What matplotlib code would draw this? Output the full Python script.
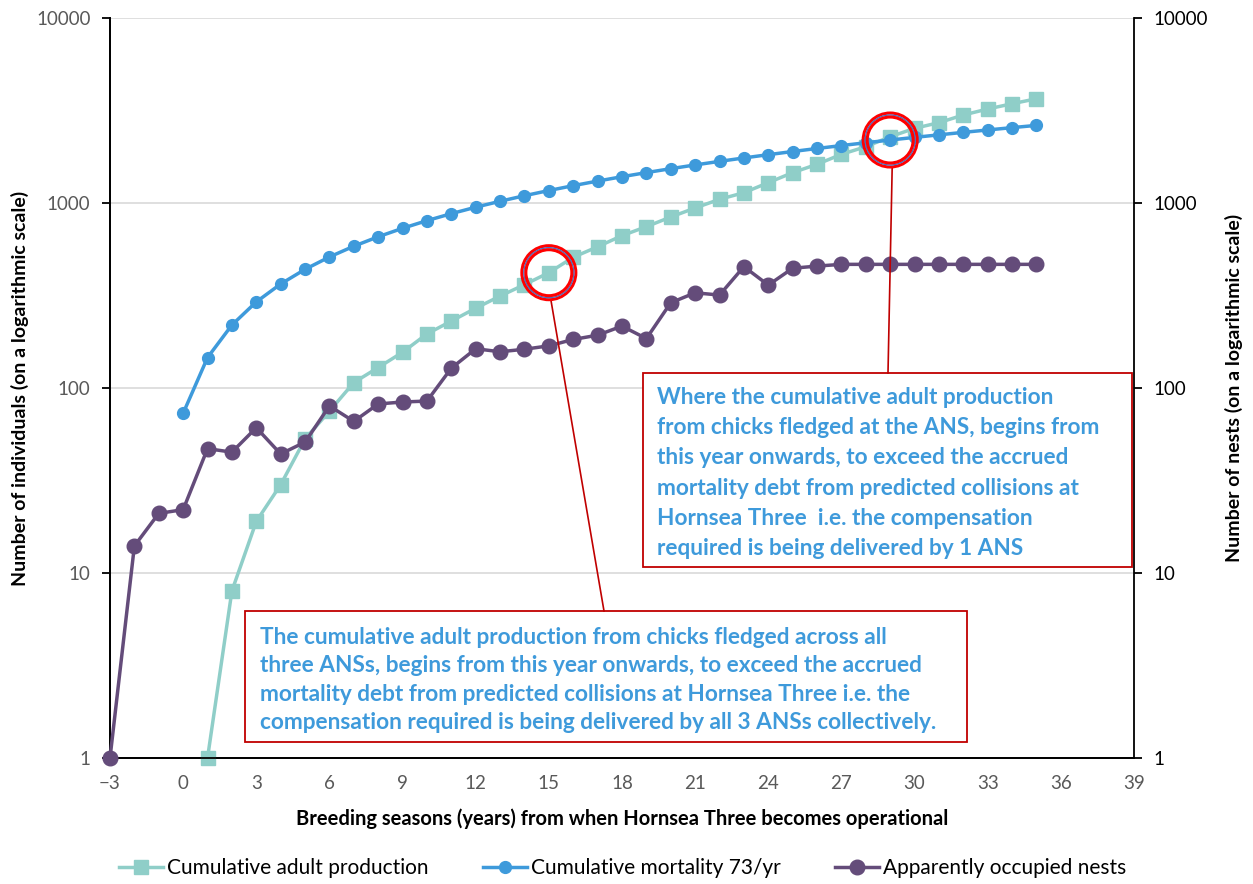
import matplotlib
matplotlib.use("Agg")
import matplotlib.pyplot as plt
from matplotlib.patches import Rectangle, Ellipse
from matplotlib.lines import Line2D

plt.rcParams['font.family'] = ['Lato', 'DejaVu Sans']

# ---- data ----
years_adult = list(range(1, 36))
adult_production = [1, 8, 19, 30, 53, 75, 107, 129, 156, 196, 230, 270, 314, 362, 420,
                    509, 580, 666, 745, 840, 940, 1047, 1137, 1288, 1459, 1619, 1833,
                    2015, 2281, 2533, 2718, 2990, 3222, 3440, 3660]

years_mort = list(range(0, 36))
cum_mortality = [73, 146, 219, 292, 365, 438, 511, 584, 657, 730, 803, 876, 949, 1022,
                 1095, 1168, 1241, 1314, 1387, 1460, 1533, 1606, 1679, 1752, 1825, 1898,
                 1971, 2044, 2117, 2190, 2263, 2336, 2409, 2482, 2555, 2628]

years_nests = list(range(-3, 36))
occupied_nests = [1, 14, 21, 22, 47, 45, 61, 44, 51, 80, 66, 82, 84, 85, 128, 163, 157,
                  162, 169, 183, 193, 216, 185, 289, 327, 318, 453, 360, 444, 456, 466,
                  466, 466, 466, 466, 466, 466, 466, 466]

x_ticks = list(range(-3, 40, 3))
y_ticks = [1, 10, 100, 1000, 10000]
y_ticklabels = ["1", "10", "100", "1000", "10000"]

labels = ["Cumulative adult production", "Cumulative mortality 73/yr",
          "Apparently occupied nests"]
box1_text = ("Where the cumulative adult production\n"
             "from chicks fledged at the ANS, begins from\n"
             "this year onwards, to exceed the accrued\n"
             "mortality debt from predicted collisions at\n"
             "Hornsea Three  i.e. the compensation\n"
             "required is being delivered by 1 ANS")
box2_text = ("The cumulative adult production from chicks fledged across all\n"
             "three ANSs, begins from this year onwards, to exceed the accrued\n"
             "mortality debt from predicted collisions at Hornsea Three i.e. the\n"
             "compensation required is being delivered by all 3 ANSs collectively.")

c_teal = "#8FCEC8"
c_blue = "#3E9ADB"
c_purple = "#644C7A"
c_red = "#C00000"
c_text_blue = "#3E9ADB"

W, H = 1253, 884
fig = plt.figure(figsize=(W / 100, H / 100), dpi=100)
ax = fig.add_axes([110 / W, 1 - 758 / H, (1134 - 110) / W, (758 - 18) / H])
ax2 = ax.twinx()

ax.set_xlim(-3, 39)
ax.set_yscale('log')
ax.set_ylim(1, 10000)
ax2.set_yscale('log')
ax2.set_ylim(1, 10000)

ax.set_yticks(y_ticks)
ax.set_yticklabels(y_ticklabels)
ax.yaxis.set_minor_locator(matplotlib.ticker.NullLocator())
ax2.set_yticks(y_ticks)
ax2.set_yticklabels(y_ticklabels)
ax2.yaxis.set_minor_locator(matplotlib.ticker.NullLocator())
ax.set_xticks(x_ticks)

ax.grid(axis='y', color='#D9D9D9', lw=1.2)
ax.set_axisbelow(True)

ax.spines['top'].set_visible(False)
ax2.spines['top'].set_visible(False)
ax.spines['right'].set_visible(False)
for a in (ax, ax2):
    for s in ['left', 'right', 'bottom']:
        a.spines[s].set_color('black')
        a.spines[s].set_linewidth(1.3)

ax.tick_params(axis='y', direction='out', length=6, width=1.3, colors='black',
               labelcolor='#595959', labelsize=13.5, pad=8)
ax.tick_params(axis='x', direction='out', length=0, labelcolor='#595959',
               labelsize=13.5, pad=12)
ax2.tick_params(axis='y', direction='out', length=6, width=1.3, colors='black',
                labelcolor='black', labelsize=13.5, pad=8)

l1, = ax.plot(years_adult, adult_production, color=c_teal, lw=2.5, marker='s',
              markersize=10, zorder=3)
l2, = ax.plot(years_mort, cum_mortality, color=c_blue, lw=2.5, marker='o',
              markersize=8.5, zorder=4)
l3, = ax2.plot(years_nests, occupied_nests, color=c_purple, lw=2.5, marker='o',
               markersize=10.5, zorder=3)
for l in (l1, l2, l3):
    l.set_clip_on(False)

ax.set_ylabel("Number of individuals (on a logarithmic scale)", fontsize=14,
              fontweight='bold', labelpad=5)
ax2.set_ylabel("Number of nests (on a logarithmic scale)", fontsize=14,
               fontweight='bold', labelpad=12)
ax.set_xlabel("Breeding seasons (years) from when Hornsea Three becomes operational",
              fontsize=14.5, fontweight='bold', labelpad=12)

handles = [Line2D([], [], color=c_teal, lw=2.5, marker='s', markersize=10),
           Line2D([], [], color=c_blue, lw=2.5, marker='o', markersize=8.5),
           Line2D([], [], color=c_purple, lw=2.5, marker='o', markersize=10.5)]
fig.legend(handles, labels, loc='center', bbox_to_anchor=(0.497, 1 - 868 / H), ncol=3,
           frameon=False, fontsize=15, handlelength=2.1, handletextpad=0.2,
           columnspacing=2.6)


def fx(px):
    return px / W


def fy(py):
    return 1 - py / H


# annotation boxes
fig.patches.append(Rectangle((fx(643), fy(567)), fx(1132) - fx(643), fy(373) - fy(567),
                             transform=fig.transFigure, fill=True, facecolor='white',
                             edgecolor=c_red, lw=1.3, zorder=5))
fig.patches.append(Rectangle((fx(245), fy(742)), fx(967) - fx(245), fy(611) - fy(742),
                             transform=fig.transFigure, fill=True, facecolor='white',
                             edgecolor=c_red, lw=1.3, zorder=5))
fig.text(fx(657), fy(473), box1_text, transform=fig.transFigure, ha='left', va='center',
         fontsize=16.3, fontweight='bold', color=c_text_blue, linespacing=1.55, zorder=6)
fig.text(fx(260), fy(680), box2_text, transform=fig.transFigure, ha='left', va='center',
         fontsize=16.3, fontweight='bold', color=c_text_blue, linespacing=1.42, zorder=6)

# circles around crossing points
fig.canvas.draw()
r = 27
for (xv, yv, bx, by) in [(15, adult_production[14], 604, 611),
                          (29, cum_mortality[29], 888, 373)]:
    dx, dy = ax.transData.transform((xv, yv))
    cx, cy = dx / W, dy / H
    for lw, col, rr in [(2.2, 'red', r), (1.0, '#4472C4', r - 2), (2.2, 'red', r - 4)]:
        fig.patches.append(Ellipse((cx, cy), 2 * rr / W, 2 * rr / H,
                                   transform=fig.transFigure, fill=False,
                                   edgecolor=col, lw=lw, zorder=7))
    fig.lines.append(Line2D([cx + 2 / W, fx(bx)], [cy - r / H, fy(by)],
                            transform=fig.transFigure, color=c_red, lw=1.2, zorder=6))

fig.savefig("out.png", dpi=100)
